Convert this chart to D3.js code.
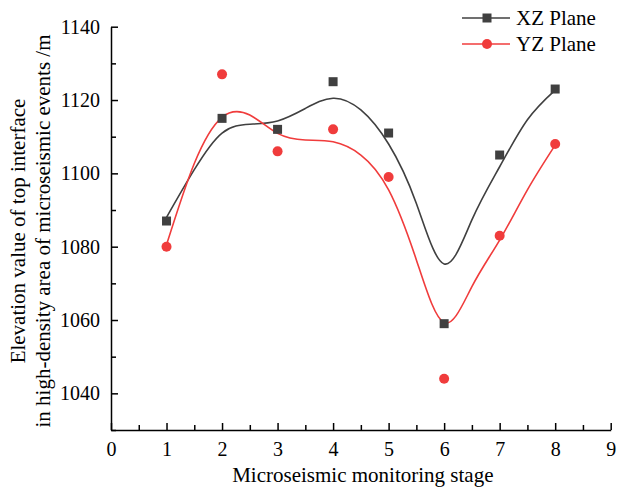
<!DOCTYPE html>
<html>
<head>
<meta charset="utf-8">
<script src="https://cdn.jsdelivr.net/npm/d3@7"></script>
<style>
  body { margin: 0; background: #fff; }
  svg { display: block; font-family: "Liberation Serif", "Times New Roman", serif; }
  .axis path, .axis line { stroke: #000; stroke-width: 1.5; }
  .axis text { font-size: 20px; fill: #000; font-family: "Liberation Serif", "Times New Roman", serif; }
</style>
</head>
<body>
<div id="chart"></div>
<script>
// measured points
var stages = [1, 2, 3, 4, 5, 6, 7, 8];
var xzValues = [1087, 1115, 1112, 1125, 1111, 1059, 1105, 1123];
var yzValues = [1080, 1127, 1106, 1112, 1099, 1044, 1083, 1108];

// fitted curves (every half stage)
var fitX  = [1, 1.5, 2, 2.5, 3, 3.5, 4, 4.5, 5, 5.5, 6, 6.5, 7, 7.5, 8];
var xzFit = [1088, 1101, 1111, 1113.4, 1114.3, 1117.7, 1120.5, 1117.3, 1108, 1091.8, 1075.3, 1087.3, 1101.8, 1114.6, 1122.7];
var yzFit = [1080.5, 1102.7, 1115.3, 1115.9, 1110.9, 1109.1, 1108.6, 1105, 1095.5, 1076.4, 1059.3, 1069.1, 1081.8, 1095.5, 1107.7];

var xTicks = [0, 1, 2, 3, 4, 5, 6, 7, 8, 9];
var yTicks = [1040, 1060, 1080, 1100, 1120, 1140];

var seriesNames = ["XZ Plane", "YZ Plane"];
var colors = ["#404040", "#f03c3c"];

var width = 617, height = 487;
var margin = {top: 26.7, right: 6.3, bottom: 57, left: 111};

var svg = d3.select("#chart").append("svg")
    .attr("width", width)
    .attr("height", height);

var x = d3.scaleLinear().domain([0, 9]).range([margin.left, width - margin.right]);
var y = d3.scaleLinear().domain([1030, 1140]).range([height - margin.bottom, margin.top]);

/**
 * axes (ticks point inward)
 */
var xMinor = d3.range(0.5, 9, 1);
var yMinor = d3.range(1030, 1140, 20);

svg.append("g")
    .attr("class", "axis")
    .attr("transform", "translate(0," + y.range()[0] + ")")
    .call(d3.axisBottom(x).tickValues(xMinor).tickSize(-5).tickFormat(""))
    .call(function(g){ g.select(".domain").remove(); });

svg.append("g")
    .attr("class", "axis")
    .attr("transform", "translate(0," + y.range()[0] + ")")
    .call(d3.axisBottom(x).tickValues(xTicks).tickSizeInner(-7).tickSizeOuter(0).tickPadding(12).tickFormat(d3.format("d")));

svg.append("g")
    .attr("class", "axis")
    .attr("transform", "translate(" + margin.left + ",0)")
    .call(d3.axisLeft(y).tickValues(yMinor).tickSize(-5).tickFormat(""))
    .call(function(g){ g.select(".domain").remove(); });

svg.append("g")
    .attr("class", "axis")
    .attr("transform", "translate(" + margin.left + ",0)")
    .call(d3.axisLeft(y).tickValues(yTicks).tickSizeInner(-7).tickSizeOuter(0).tickPadding(11).tickFormat(d3.format("d")));

/**
 * axis titles
 */
svg.append("text")
    .attr("x", (x(0) + x(9)) / 2 + 2)
    .attr("y", 482)
    .attr("text-anchor", "middle")
    .style("font-size", "21px")
    .text("Microseismic monitoring stage");

var yTitle = svg.append("text")
    .attr("transform", "translate(25," + 231 + ") rotate(-90)")
    .attr("text-anchor", "middle")
    .style("font-size", "21px");
yTitle.append("tspan").attr("x", 0).attr("dy", 0).text("Elevation value of top interface");
yTitle.append("tspan").attr("x", 0).attr("dy", 25).text("in high-density area of microseismic events /m");

/**
 * fitted curves
 */
var line = d3.line()
    .x(function(d){ return x(d[0]); })
    .y(function(d){ return y(d[1]); })
    .curve(d3.curveNatural);

[xzFit, yzFit].forEach(function(fit, i){
    svg.append("path")
        .datum(fitX.map(function(v, k){ return [v, fit[k]]; }))
        .attr("fill", "none")
        .attr("stroke", colors[i])
        .attr("stroke-width", 1.6)
        .attr("d", line);
});

/**
 * points
 */
svg.selectAll(".sq")
    .data(stages.map(function(s, k){ return [s, xzValues[k]]; }))
    .enter().append("rect")
    .attr("class", "sq")
    .attr("x", function(d){ return x(d[0]) - 4.5; })
    .attr("y", function(d){ return y(d[1]) - 4.5; })
    .attr("width", 9)
    .attr("height", 9)
    .attr("fill", colors[0]);

svg.selectAll(".dot")
    .data(stages.map(function(s, k){ return [s, yzValues[k]]; }))
    .enter().append("circle")
    .attr("class", "dot")
    .attr("cx", function(d){ return x(d[0]); })
    .attr("cy", function(d){ return y(d[1]); })
    .attr("r", 5)
    .attr("fill", colors[1]);

/**
 * legend
 */
var legend = svg.append("g").attr("transform", "translate(462,18)");
seriesNames.forEach(function(name, i){
    var g = legend.append("g").attr("transform", "translate(0," + (i * 26) + ")");
    g.append("line").attr("x1", 0).attr("x2", 48).attr("y1", 0).attr("y2", 0)
        .attr("stroke", colors[i]).attr("stroke-width", 1.6);
    if (i === 0) {
        g.append("rect").attr("x", 20.5).attr("y", -4.5).attr("width", 9).attr("height", 9).attr("fill", colors[i]);
    } else {
        g.append("circle").attr("cx", 25).attr("cy", 0).attr("r", 5).attr("fill", colors[i]);
    }
    g.append("text").attr("x", 54).attr("y", 7).style("font-size", "21px").text(name);
});
</script>
</body>
</html>
